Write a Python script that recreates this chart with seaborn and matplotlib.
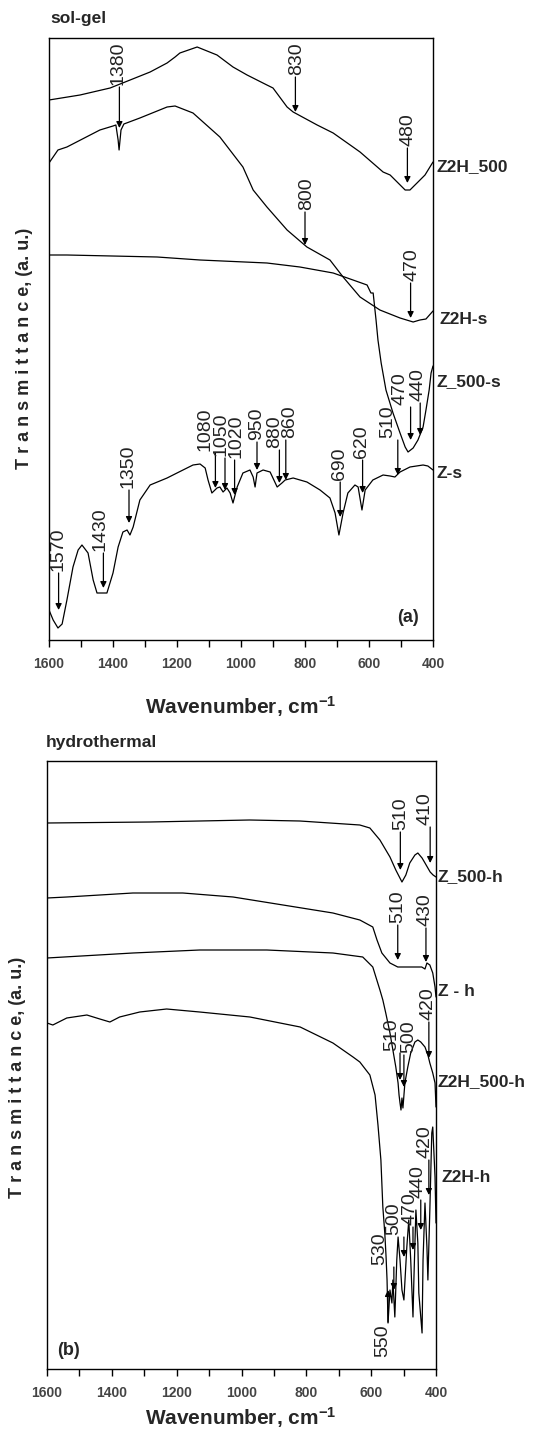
import numpy as np
import pandas as pd
import matplotlib
matplotlib.use("Agg")
import matplotlib.pyplot as plt
import seaborn as sns

# ---------------- (a) sol-gel ----------------
z2h500_wn = [1600, 1503, 1409, 1284, 1231, 1206, 1191, 1137, 1075, 1025, 981, 919, 900, 856, 837,
             762, 712, 650, 628, 556, 534, 487, 472, 450, 425, 400]
z2h500_t = [54.0, 54.5, 55.2, 56.8, 57.7, 58.3, 58.7, 59.3, 58.5, 57.3, 56.5, 55.5, 55.2, 53.3, 52.8,
            51.5, 50.7, 49.3, 48.8, 46.8, 46.5, 45.0, 45.0, 45.7, 46.5, 47.8]

z2hs_wn = [1600, 1572, 1544, 1441, 1400, 1391, 1384, 1381, 1375, 1366, 1316, 1231, 1206, 1150, 1066,
           994, 962, 919, 856, 794, 722, 681, 628, 566, 503, 462, 441, 422, 400]
z2hs_t = [47.7, 49.0, 49.3, 51.0, 51.4, 51.5, 50.0, 49.0, 51.0, 51.6, 52.2, 53.3, 53.4, 52.7, 50.3,
          47.3, 45.0, 43.3, 41.0, 39.3, 38.0, 36.3, 34.3, 33.0, 32.2, 31.8, 32.0, 32.1, 32.9]

z500s_wn = [1600, 1544, 1262, 1128, 919, 816, 712, 650, 606, 594, 587, 578, 572, 562, 547, 525, 503,
            487, 478, 462, 447, 431, 422, 412, 406, 400]
z500s_t = [38.5, 38.5, 38.3, 38.0, 37.7, 37.3, 36.7, 36.0, 35.5, 34.7, 34.7, 32.0, 30.0, 27.7, 25.0,
           22.7, 20.7, 19.3, 18.8, 19.2, 20.0, 21.3, 23.0, 25.0, 26.7, 27.4]

zs_wn = [1600, 1587, 1572, 1559, 1544, 1525, 1509, 1497, 1478, 1462, 1450, 1419, 1400, 1384, 1369,
         1356, 1347, 1337, 1316, 1284, 1231, 1200, 1150, 1128, 1112, 1103, 1091, 1075, 1066, 1056,
         1044, 1034, 1025, 1012, 994, 972, 962, 956, 950, 931, 909, 887, 872, 862, 837, 794, 753,
         722, 706, 694, 681, 666, 644, 634, 622, 612, 588, 556, 534, 519, 503, 472, 431, 416, 400]
zs_t = [3.0, 2.0, 1.2, 1.6, 4.0, 7.3, 9.0, 9.5, 8.7, 6.0, 4.7, 4.7, 6.7, 9.3, 10.8,
        11.0, 10.5, 11.3, 14.0, 15.5, 16.2, 16.7, 17.5, 17.6, 17.2, 16.0, 14.7, 15.2, 15.3, 14.8,
        15.2, 14.7, 13.7, 15.3, 16.7, 17.0, 16.3, 15.3, 16.7, 17.0, 16.8, 15.3, 15.7, 16.0, 16.2, 15.8, 15.0,
        14.2, 12.7, 10.5, 12.7, 14.7, 15.5, 15.3, 13.0, 15.0, 16.0, 16.5, 16.4, 16.3, 16.8, 17.3, 17.5, 17.4, 17.0]

a_names = ["Z2H_500", "Z2H-s", "Z_500-s", "Z-s"]
a_name_t = [47.3, 32.0, 25.8, 16.7]

a_peaks = ["1380", "830", "480", "800", "470", "1570", "1430", "1350", "1080", "1050", "1020",
           "950", "880", "860", "690", "620", "510", "470", "440"]
a_arrow_wn = [1380, 830, 480, 800, 470, 1570, 1430, 1350, 1080, 1050, 1020,
              950, 880, 860, 690, 620, 510, 470, 440]
a_tip_t = [51.2, 52.8, 45.7, 39.5, 32.2, 3.0, 5.2, 11.7, 15.2, 15.0, 14.5,
           17.0, 15.7, 16.0, 12.3, 14.7, 16.5, 20.0, 20.5]
a_tail_t = [55.3, 56.3, 49.2, 42.8, 35.7, 6.7, 8.7, 15.0, 18.7, 18.2, 18.0,
            19.8, 19.0, 20.0, 15.8, 18.0, 20.0, 23.3, 23.7]
a_text_wn = [1384, 825, 478, 794, 466, 1572, 1441, 1353, 1112, 1064, 1017,
             950, 894, 847, 691, 622, 541, 503, 447]

# ---------------- (b) hydrothermal ----------------
z500h_wn = [1600, 1283, 975, 820, 635, 604, 573, 542, 524, 505, 493, 481, 465, 456, 443, 434, 418, 409, 400]
z500h_t = [54.6, 54.7, 54.9, 54.8, 54.4, 54.1, 52.9, 51.2, 49.9, 48.7, 49.4, 50.6, 51.4, 51.6, 51.1,
           50.6, 49.7, 49.4, 49.2]

zh_wn = [1600, 1539, 1335, 1181, 1026, 872, 718, 635, 595, 582, 567, 542, 518, 481, 444, 434, 428,
         419, 410, 403, 400]
zh_t = [47.1, 47.2, 47.6, 47.6, 47.2, 46.4, 45.6, 44.9, 44.2, 42.9, 41.6, 40.6, 40.2, 40.2, 40.2,
        40.0, 40.6, 40.4, 39.6, 38.2, 37.2]

z2h500h_wn = [1600, 1335, 1129, 922, 718, 626, 595, 573, 564, 555, 542, 533, 524, 517, 514, 511, 508,
              505, 502, 496, 487, 478, 465, 456, 447, 434, 425, 419, 410, 403, 400]
z2h500h_t = [41.1, 41.6, 41.9, 41.9, 41.6, 41.2, 40.2, 37.9, 36.9, 35.6, 33.6, 31.9, 30.2, 28.6, 27.4,
             26.6, 25.9, 27.1, 26.1, 28.6, 30.2, 31.6, 32.7, 32.9, 32.7, 32.2, 31.4, 30.6, 29.6, 28.6, 26.2]

z2hh_wn = [1600, 1582, 1539, 1477, 1437, 1406, 1376, 1314, 1231, 1129, 974, 819, 718, 656, 635, 604,
           588, 579, 570, 564, 558, 554, 551, 548, 542, 536, 533, 527, 521, 517, 511, 505, 499, 490,
           484, 478, 471, 468, 462, 456, 453, 443, 440, 434, 428, 425, 419, 413, 410, 403, 400]
z2hh_t = [34.6, 34.4, 35.1, 35.4, 35.0, 34.7, 35.2, 35.7, 36.0, 35.7, 35.2, 34.2, 32.6, 31.2, 30.7, 29.4,
          27.4, 24.4, 20.9, 16.2, 13.6, 11.2, 8.9, 4.6, 7.9, 6.6, 8.9, 5.2, 10.9, 13.2, 10.9, 7.9, 6.9, 12.2,
          14.9, 10.9, 5.2, 9.2, 15.9, 12.6, 7.6, 3.6, 10.9, 16.6, 12.2, 8.9, 15.9, 23.6, 24.2, 19.2, 14.6]

b_names = ["Z_500-h", "Z - h", "Z2H_500-h", "Z2H-h"]
b_name_t = [49.2, 37.7, 28.7, 19.1]

b_peaks = ["510", "410", "510", "430", "510", "500", "420", "530", "550", "500", "470", "440", "420"]
b_arrow_wn = [510, 418, 518, 431, 511, 499, 422, 530, 548, 499, 471, 447, 422]
b_tip_t = [49.9, 50.6, 40.9, 40.7, 28.9, 28.2, 31.1, 7.9, 7.9, 11.2, 11.9, 13.9, 17.4]
b_tail_t = [53.7, 54.2, 44.4, 44.1, 31.6, 31.4, 34.7, 10.2, 4.7, 13.2, 14.2, 16.9, 20.9]
b_text_wn = [508, 434, 518, 434, 538, 485, 425, 573, 563, 530, 480, 456, 434]

# ---------------- drawing ----------------
sns.set_style("white")
plt.rcParams["font.family"] = ["Liberation Sans", "DejaVu Sans"]
plt.rcParams["mathtext.fontset"] = "custom"
plt.rcParams["mathtext.rm"] = "Liberation Sans:bold"
plt.rcParams["mathtext.default"] = "rm"

W, H = 544, 1441
fig = plt.figure(figsize=(W / 100, H / 100), dpi=100)
ax_a = fig.add_axes([49 / W, (H - 640) / H, 384 / W, 602 / H])
ax_b = fig.add_axes([47 / W, (H - 1369) / H, 389 / W, 608 / H])


def draw_panel(ax, curves, ymax, names, name_t, name_x, peaks, arrow_wn, tip_t, tail_t, text_wn):
    for wn, t in curves:
        df = pd.DataFrame({"wn": wn, "t": t})
        sns.lineplot(data=df, x="wn", y="t", ax=ax, color="black", lw=0.9,
                     sort=False, estimator=None, legend=False)
    ax.set_xlim(1600, 400)
    ax.set_ylim(0, ymax)
    ax.set_xlabel("")
    ax.set_ylabel("")
    ax.set_yticks([])
    ax.set_xticks(np.arange(1600, 399, -200))
    ax.set_xticks(np.arange(1500, 400, -200), minor=True)
    ax.tick_params(axis="x", which="both", direction="out", length=5, width=1,
                   bottom=True, color="black", pad=7)
    for lab in ax.get_xticklabels():
        lab.set_fontweight("bold")
        lab.set_fontsize(10)
        lab.set_color("#444444")
    for sp in ax.spines.values():
        sp.set_color("black")
        sp.set_linewidth(1.0)

    for lab, a_wn, tip, tail, tx in zip(peaks, arrow_wn, tip_t, tail_t, text_wn):
        ax.annotate("", xy=(a_wn, tip), xytext=(a_wn, tail),
                    arrowprops=dict(arrowstyle="-|>", color="black", lw=0.9,
                                    mutation_scale=9, shrinkA=0, shrinkB=0))
        if tail > tip:
            ax.text(tx, tail + 0.2, lab, rotation=90, ha="center", va="bottom",
                    fontsize=14, color="#222222")
        else:
            ax.text(tx, tail - 0.2, lab, rotation=90, ha="center", va="top",
                    fontsize=14, color="#222222")

    tr = ax.get_yaxis_transform()
    for nm, t, x in zip(names, name_t, name_x):
        ax.text(x, t, nm, transform=tr, ha="left", va="center", fontsize=12.5,
                fontweight="bold", clip_on=False)


draw_panel(ax_a, [(z2h500_wn, z2h500_t), (z2hs_wn, z2hs_t), (z500s_wn, z500s_t), (zs_wn, zs_t)],
           60.2, a_names, a_name_t, [1.010, 1.018, 1.010, 1.010],
           a_peaks, a_arrow_wn, a_tip_t, a_tail_t, a_text_wn)
draw_panel(ax_b, [(z500h_wn, z500h_t), (zh_wn, zh_t), (z2h500h_wn, z2h500h_t), (z2hh_wn, z2hh_t)],
           60.8, b_names, b_name_t, [1.005, 1.005, 1.005, 1.013],
           b_peaks, b_arrow_wn, b_tip_t, b_tail_t, b_text_wn)

ax_a.text(0.906, 0.038, "(a)", transform=ax_a.transAxes, ha="left", va="center",
          fontsize=13, fontweight="bold")
ax_b.text(0.026, 0.031, "(b)", transform=ax_b.transAxes, ha="left", va="center",
          fontsize=13, fontweight="bold")

fig.text(50 / W, 1 - 18 / H, "sol-gel", ha="left", va="center", fontsize=12.5, fontweight="bold")
fig.text(46 / W, 1 - 742 / H, "hydrothermal", ha="left", va="center", fontsize=12.5, fontweight="bold")

ylab = "T r a n s m i t t a n c e, (a. u.)"
fig.text(25 / W, 1 - 348 / H, ylab, rotation=90, ha="center", va="center", fontsize=13, fontweight="bold")
fig.text(18 / W, 1 - 1077 / H, ylab, rotation=90, ha="center", va="center", fontsize=13, fontweight="bold")

xlab = "Wavenumber, cm$^{-1}$"
fig.text(241 / W, 1 - 707 / H, xlab, ha="center", va="center", fontsize=15, fontweight="bold")
fig.text(241 / W, 1 - 1418 / H, xlab, ha="center", va="center", fontsize=15, fontweight="bold")

fig.savefig("out.png", dpi=100, facecolor="white")
